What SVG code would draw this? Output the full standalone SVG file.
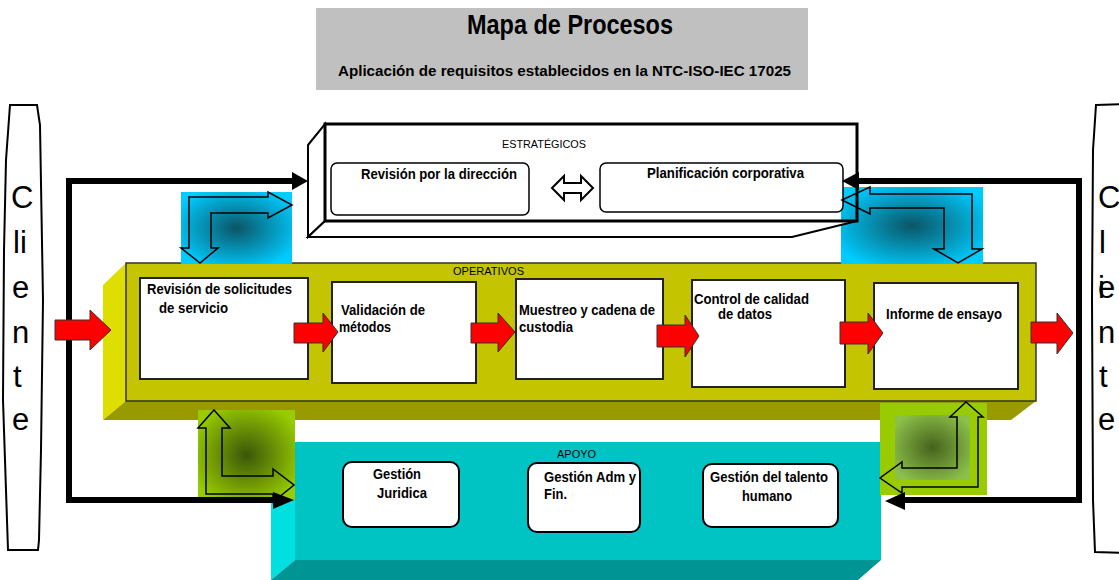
<svg xmlns="http://www.w3.org/2000/svg" width="1119" height="580" viewBox="0 0 1119 580">
<defs>
<style>
.b{font-family:"Liberation Sans",Arial,sans-serif;font-weight:bold;font-size:15px;fill:#000}
.n{font-family:"Liberation Sans",Arial,sans-serif;font-size:11px;fill:#000}
.cl{font-family:"Liberation Sans",Arial,sans-serif;font-size:31px;fill:#000}
.box{fill:#fff;stroke:#222;stroke-width:2}
.rbox{fill:#fff;stroke:#000;stroke-width:2}
.red{fill:#ff0000;stroke:#333;stroke-width:1}
.elb{fill:none;stroke:#000;stroke-width:1.5;stroke-linejoin:miter}
.loop{fill:none;stroke:#000;stroke-width:6;stroke-linejoin:miter}
.ah{fill:#000}
</style>
<radialGradient id="gb" cx="0.5" cy="0.5" r="0.6">
<stop offset="0" stop-color="#0b5566"/>
<stop offset="1" stop-color="#00ccff"/>
</radialGradient>
<radialGradient id="gg" cx="0.5" cy="0.5" r="0.6">
<stop offset="0" stop-color="#3b560a"/>
<stop offset="1" stop-color="#99cc00"/>
</radialGradient>
<radialGradient id="gg2" cx="0.5" cy="0.5" r="0.6">
<stop offset="0" stop-color="#46621c"/>
<stop offset="1" stop-color="#8cc04a"/>
</radialGradient>
</defs>
<rect width="1119" height="580" fill="#fff"/>

<g id="title">
<rect x="316" y="8" width="492" height="82" fill="#c0c0c0"/>
<text x="467" y="34" class="b" style="font-size:28px" textLength="206" lengthAdjust="spacingAndGlyphs">Mapa de Procesos</text>
<text x="338" y="76" class="b" textLength="453" lengthAdjust="spacingAndGlyphs">Aplicación de requisitos establecidos en la NTC-ISO-IEC 17025</text>
</g>

<g id="cliente-izq">
<path d="M10,105 L37,105 L40,125 L43,300 L41,450 L39,540 L38,550 L8,550 L7,520 L3,400 L4,250 L6,160 Z" fill="#fff" stroke="#000" stroke-width="2"/>
<text class="cl" x="11" y="208">C</text>
<text class="cl" x="13" y="253">li</text>
<text class="cl" x="12" y="298">e</text>
<text class="cl" x="12" y="343">n</text>
<text class="cl" x="13" y="387">t</text>
<text class="cl" x="12" y="430">e</text>
</g>

<g id="cliente-der">
<path d="M1096,105 L1125,104 L1125,553 L1095,552 L1093,500 L1092,300 L1093,150 Z" fill="#fff" stroke="#000" stroke-width="2"/>
<text class="cl" x="1098" y="208">C</text>
<text class="cl" x="1099" y="253">l</text>
<text class="cl" x="1098" y="298">i</text>
<text class="cl" x="1098" y="298">e</text>
<text class="cl" x="1098" y="343">n</text>
<text class="cl" x="1099" y="387">t</text>
<text class="cl" x="1098" y="430">e</text>
</g>

<g id="operativos">
<polygon points="103,285 126,263 126,401 103,420" fill="#dede00"/>
<polygon points="103,420 126,401 1036,401 1011,420" fill="#999900"/>
<rect x="126" y="263" width="910" height="138" fill="#c4c400" stroke="#333" stroke-width="1.5"/>
<text x="453" y="275" class="n" textLength="71" lengthAdjust="spacingAndGlyphs">OPERATIVOS</text>
</g>

<g id="revision-solicitudes">
<rect x="140" y="278" width="168" height="101" class="box"/>
<text x="147" y="294" class="b" textLength="145" lengthAdjust="spacingAndGlyphs">Revisión de solicitudes</text>
<text x="159" y="313" class="b" textLength="69" lengthAdjust="spacingAndGlyphs">de servicio</text>
</g>
<g id="validacion">
<rect x="332" y="282" width="144" height="101" class="box"/>
<text x="341" y="315" class="b" textLength="84" lengthAdjust="spacingAndGlyphs">Validación de</text>
<text x="339" y="332" class="b" textLength="52" lengthAdjust="spacingAndGlyphs">métodos</text>
</g>
<g id="muestreo">
<rect x="516" y="279" width="147" height="100" class="box"/>
<text x="519" y="315" class="b" textLength="136" lengthAdjust="spacingAndGlyphs">Muestreo y cadena de</text>
<text x="519" y="332" class="b" textLength="54" lengthAdjust="spacingAndGlyphs">custodia</text>
</g>
<g id="control">
<rect x="692" y="280" width="153" height="107" class="box"/>
<text x="694" y="304" class="b" textLength="115" lengthAdjust="spacingAndGlyphs">Control de calidad</text>
<text x="718" y="319" class="b" textLength="54" lengthAdjust="spacingAndGlyphs">de datos</text>
</g>
<g id="informe">
<rect x="874" y="283" width="144" height="106" class="box"/>
<text x="886" y="319" class="b" textLength="116" lengthAdjust="spacingAndGlyphs">Informe de ensayo</text>
</g>

<g id="apoyo">
<polygon points="271,466 295,442 295,560 271,580" fill="#00e0e0"/>
<polygon points="271,580 295,560 881,560 858,580" fill="#009595"/>
<rect x="295" y="442" width="586" height="118" fill="#00c4c4"/>
<text x="557" y="458" class="n" textLength="39" lengthAdjust="spacingAndGlyphs">APOYO</text>
</g>
<g id="gestion-juridica">
<rect x="343" y="462" width="116" height="65" rx="9" class="rbox"/>
<text x="373" y="479" class="b" textLength="48" lengthAdjust="spacingAndGlyphs">Gestión</text>
<text x="377" y="498" class="b" textLength="50" lengthAdjust="spacingAndGlyphs">Juridica</text>
</g>
<g id="gestion-adm">
<rect x="528" y="463" width="112" height="69" rx="9" class="rbox"/>
<text x="544" y="482" class="b" textLength="92" lengthAdjust="spacingAndGlyphs">Gestión Adm y</text>
<text x="544" y="499" class="b" textLength="23" lengthAdjust="spacingAndGlyphs">Fin.</text>
</g>
<g id="gestion-talento">
<rect x="703" y="464" width="135" height="63" rx="9" class="rbox"/>
<text x="710" y="482" class="b" textLength="118" lengthAdjust="spacingAndGlyphs">Gestión del talento</text>
<text x="742" y="501" class="b" textLength="50" lengthAdjust="spacingAndGlyphs">humano</text>
</g>

<g id="fondos-flechas">
<rect x="181" y="192" width="111" height="72" fill="url(#gb)"/>
<rect x="841" y="187" width="142" height="77" fill="url(#gb)"/>
<rect x="198" y="410" width="97" height="90" fill="url(#gg)"/>
<rect x="880" y="403" width="107" height="92" fill="#99cc00"/>
<rect x="895" y="415" width="75" height="65" fill="url(#gg2)"/>
</g>

<g id="estrategicos">
<polygon points="308,145 325,124 325,221 308,237" fill="#fff" stroke="#000" stroke-width="2"/>
<polygon points="308,237 325,221 857,221 792,237" fill="#fff" stroke="#000" stroke-width="2"/>
<rect x="325" y="124" width="532" height="97" fill="none" stroke="#000" stroke-width="3"/>
<text x="502" y="148" class="n" textLength="84" lengthAdjust="spacingAndGlyphs">ESTRATÉGICOS</text>
</g>
<g id="revision-direccion">
<rect x="331" y="163" width="198" height="52" rx="6" fill="#fff" stroke="#000" stroke-width="1.5"/>
<text x="361" y="179" class="b" textLength="156" lengthAdjust="spacingAndGlyphs">Revisión por la dirección</text>
</g>
<g id="planificacion">
<rect x="600" y="163" width="243" height="49" rx="6" fill="#fff" stroke="#000" stroke-width="1.5"/>
<text x="647" y="178" class="b" textLength="157" lengthAdjust="spacingAndGlyphs">Planificación corporativa</text>
</g>

<g id="connectors">
<polygon points="552,188 564,176 564,183 581,183 581,176 593,188 581,200 581,193 564,193 564,200" fill="#fff" stroke="#000" stroke-width="2"/>
<polygon class="elb" points="189,197 268,197 268,192 292,205 268,218 268,213 211,213 211,248 218,248 200,263 181,248 189,248"/>
<polygon class="elb" points="842,200 870,187 870,194 972,194 972,249 982,249 958,263 934,249 944,249 944,208 870,208 870,214"/>
<polygon class="elb" points="214,410 230,428 222,428 222,476 273,476 273,469 294,485 273,502 273,494 206,494 206,428 198,428"/>
<polygon class="elb" points="966,402 983,417 978,417 978,487 902,487 902,493 880,478 902,462 902,468 957,468 957,417 950,417"/>
<path class="loop" d="M294,181 H69 V500 H276"/>
<polygon class="ah" points="292,172 308,181 292,190"/>
<polygon class="ah" points="273,492 294,500 273,509"/>
<path class="loop" d="M857,181 H1079 V500 H903"/>
<polygon class="ah" points="859,172 842,181 859,190"/>
<polygon class="ah" points="905,492 885,501 905,510"/>
<polygon class="red" points="55,320 90,320 90,310 111,330 90,350 90,340 55,340"/>
<polygon class="red" points="294,323 323,323 323,313 338,332 323,352 323,343 294,343"/>
<polygon class="red" points="471,323 498,323 498,313 515,332 498,352 498,343 471,343"/>
<polygon class="red" points="657,325 685,325 685,315 699,336 685,357 685,347 657,347"/>
<polygon class="red" points="840,322 868,322 868,313 883,333 868,354 868,344 840,344"/>
<polygon class="red" points="1031,322 1057,322 1057,313 1073,333 1057,354 1057,343 1031,343"/>
</g>
</svg>
